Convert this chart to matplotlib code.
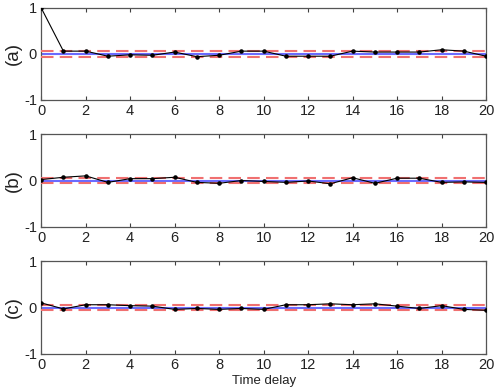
import matplotlib
matplotlib.use('Agg')
import matplotlib.pyplot as plt
import numpy as np

plt.rcParams['font.family'] = ['Liberation Sans', 'DejaVu Sans']
plt.rcParams['axes.unicode_minus'] = False

lags = list(range(21))
acf_a = [1.0, 0.06, 0.06, -0.05, -0.02, -0.03, 0.04, -0.06, -0.03, 0.06, 0.06,
         -0.05, -0.05, -0.05, 0.06, 0.04, 0.04, 0.04, 0.09, 0.06, -0.05]
acf_b = [0.02, 0.07, 0.10, -0.04, 0.04, 0.04, 0.07, -0.04, -0.06, 0.0, -0.02,
         -0.04, -0.01, -0.07, 0.06, -0.06, 0.05, 0.05, -0.04, -0.03, -0.04]
acf_c = [0.10, -0.03, 0.06, 0.06, 0.04, 0.03, -0.04, -0.02, -0.04, -0.02, -0.04,
         0.06, 0.06, 0.08, 0.06, 0.08, 0.03, -0.02, 0.04, -0.04, -0.06]
bound = 0.06
panel_labels = ['(a)', '(b)', '(c)']
xticks = [0, 2, 4, 6, 8, 10, 12, 14, 16, 18, 20]
yticks = [-1, 0, 1]

fig = plt.figure(figsize=(4.96, 3.92), dpi=100)
positions = [(0.083, 0.745, 0.897, 0.235),
             (0.083, 0.421, 0.897, 0.237),
             (0.083, 0.097, 0.897, 0.237)]

for pos, vals, lab in zip(positions, [acf_a, acf_b, acf_c], panel_labels):
    ax = fig.add_axes(pos)
    ax.axhline(0, color='#6b6bff', lw=1.5, zorder=2)
    ax.axhline(bound, color='#f07070', lw=1.5, ls=(0, (6, 3)), zorder=3)
    ax.axhline(-bound, color='#f07070', lw=1.5, ls=(0, (6, 3)), zorder=3)
    ax.plot(lags, vals, color='black', lw=0.8, marker='.', ms=4.5, zorder=4)
    ax.set_xlim(0, 20)
    ax.set_ylim(-1, 1)
    ax.set_xticks(xticks)
    ax.set_yticks(yticks)
    ax.tick_params(direction='in', top=True, right=True, length=3,
                   labelsize=10.5, color='#404040', labelcolor='#222222', pad=3)
    for s in ax.spines.values():
        s.set_color('#555555')
        s.set_linewidth(0.9)
    fig.text(0.026, pos[1] + pos[3] / 2, lab, rotation=90, fontsize=13.5,
             ha='center', va='center', color='#222222')
    if lab == '(c)':
        ax.set_xlabel('Time delay', fontsize=9.5, labelpad=2, color='#222222')

fig.savefig('out.png', dpi=100)
